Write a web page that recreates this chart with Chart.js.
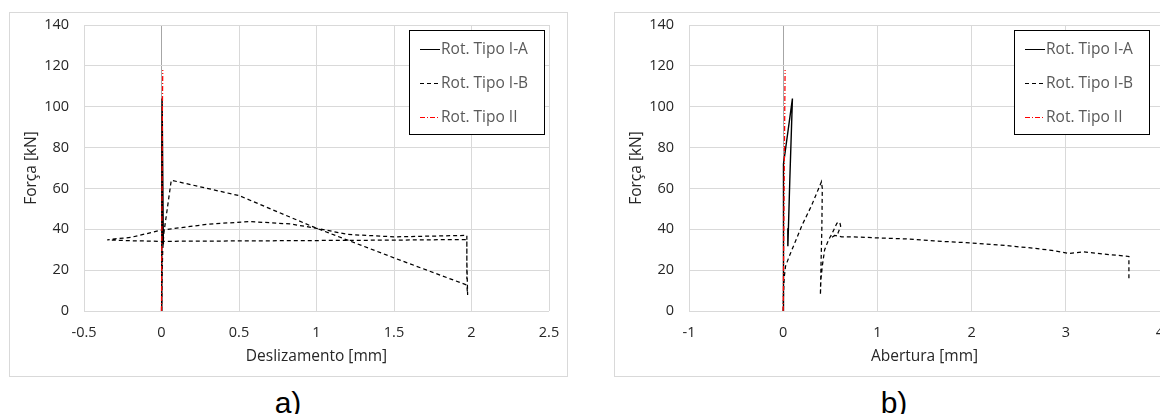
<!DOCTYPE html>
<html>
<head>
<meta charset="utf-8">
<script src="https://cdn.jsdelivr.net/npm/chart.js@4.4.1/dist/chart.umd.min.js"></script>
<style>
html, body { margin: 0; padding: 0; background: #fff; overflow: hidden; width: 1160px; height: 414px; }
.box { position: absolute; top: 12px; border: 1px solid #d9d9d9; background: #fff; }
#boxA { left: 9px; width: 557px; height: 363px; }
#boxB { left: 614px; width: 563px; height: 363px; }
canvas { display: block; }
.lbl { position: absolute; top: 388px; font: 30px "Liberation Sans", Arial, sans-serif; line-height: 30px; color: #000; transform: translateX(-50%); }
</style>
</head>
<body>
<div class="box" id="boxA"><canvas id="chartA" width="557" height="363"></canvas></div>
<div class="box" id="boxB"><canvas id="chartB" width="563" height="363"></canvas></div>
<div class="lbl" style="left:288px">a)</div>
<div class="lbl" style="left:894px">b)</div>
<script>
// ticks
var yTicks = [0, 20, 40, 60, 80, 100, 120, 140];
var xTicksA = [-0.5, 0, 0.5, 1, 1.5, 2, 2.5];
var xTicksB = [-1, 0, 1, 2, 3, 4];

var labels = ['Rot. Tipo I-A', 'Rot. Tipo I-B', 'Rot. Tipo II'];

// a) deslizamento [mm] x força [kN]
var iaSlipX = [0, 0.001, 0.002, 0.003, 0.004, 0.012, 0.01, 0.012];
var iaSlipY = [0, 40, 75, 80, 104, 33, 40, 35];
var ibSlipX = [0, 0.003, 0.008, 0.015, 0.063, 0.5, 1.0, 1.5, 1.97, 1.975, 1.97, 1.97, 1.5, 1.2, 1.0, 0.83, 0.57, 0.3, 0, -0.2, -0.3, -0.35, -0.2, 0, 0.5, 1.0, 1.5, 1.97, 1.97, 1.97];
var ibSlipY = [0, 15, 30, 38, 64, 56.5, 40.5, 26, 12.7, 7.8, 25, 37, 36.3, 37.5, 40.5, 42.6, 43.8, 42.5, 39.6, 36, 35.3, 34.8, 34.4, 34.1, 34.3, 34.5, 34.7, 35, 25, 15.5];
var iiSlipX = [0, 0.003, 0.006, 0.008];
var iiSlipY = [0, 50, 100, 118];

// b) abertura [mm] x força [kN]
var iaOpenX = [0, 0.002, 0.004, 0.027, 0.098, 0.07, 0.05, 0.048, 0.05];
var iaOpenY = [0, 40, 72, 80, 104, 64, 32, 40.5, 34];
var ibOpenX = [0, 0.003, 0.01, 0.025, 0.07, 0.2, 0.3, 0.406, 0.415, 0.41, 0.40, 0.395, 0.40, 0.415, 0.44, 0.48, 0.52, 0.57, 0.6, 0.61, 0.58, 0.53, 0.51, 0.55, 0.62, 0.8, 1.0, 1.3, 1.6, 2.0, 2.3, 2.6, 2.85, 3.03, 3.19, 3.4, 3.67, 3.67, 3.67];
var ibOpenY = [0, 8, 16, 22, 27.4, 42, 51.5, 63.3, 60, 40, 20, 7.8, 15, 22, 30, 34.7, 38, 43, 43.5, 41.5, 38, 36.5, 36, 37, 36.3, 36.2, 35.8, 35.3, 34.3, 33.3, 32.3, 31, 29.7, 28.2, 28.9, 27.9, 26.7, 21, 15.2];
var iiOpenX = [0, 0.01, 0.02];
var iiOpenY = [0, 60, 118];

function pts(xs, ys) {
    return xs.map(function(x, i) { return { x: x, y: ys[i] }; });
}

// legenda com moldura, desenhada à mão
var boxLegend = {
    id: 'boxLegend',
    afterDraw: function(chart, args, opts) {
        var ctx = chart.ctx;
        ctx.save();
        ctx.fillStyle = '#fff';
        ctx.fillRect(opts.x, opts.y, opts.w, opts.h);
        ctx.strokeStyle = '#000';
        ctx.lineWidth = 1;
        ctx.strokeRect(opts.x + 0.5, opts.y + 0.5, opts.w, opts.h);
        chart.data.datasets.forEach(function(ds, i) {
            var cy = Math.round(opts.y + opts.rows[i]) + 0.5;
            ctx.beginPath();
            ctx.setLineDash(ds.borderDash || []);
            ctx.strokeStyle = ds.borderColor;
            ctx.lineWidth = 1;
            ctx.moveTo(opts.x + 11, cy);
            ctx.lineTo(opts.x + 31, cy);
            ctx.stroke();
            ctx.setLineDash([]);
            ctx.fillStyle = '#595959';
            ctx.font = '15.5px "Open Sans"';
            ctx.textBaseline = 'middle';
            ctx.fillText(ds.label, opts.x + 32, cy);
        });
        ctx.restore();
    }
};

function makeChart(id, xMin, xMax, xTicks, xTitle, ia, ib, ii) {
    var tickFont = { family: 'Open Sans', size: 14.5 };
    var titleFont = { family: 'Open Sans', size: 15.5 };
    var config = {
        type: 'scatter',
        data: {
            datasets: [
                { label: labels[0], data: ia, showLine: true, borderColor: '#000', borderWidth: 1.4, pointRadius: 0, order: 1 },
                { label: labels[1], data: ib, showLine: true, borderColor: '#000', borderWidth: 1.25, borderDash: [4, 3], pointRadius: 0, order: 2 },
                { label: labels[2], data: ii, showLine: true, borderColor: '#ff0000', borderWidth: 1.25, borderDash: [5, 2, 1, 2], pointRadius: 0, order: 0 }
            ]
        },
        options: {
            responsive: false,
            animation: false,
            layout: { padding: { left: 0, right: 18, top: 12, bottom: 0 } },
            plugins: {
                legend: { display: false },
                tooltip: { enabled: false },
                boxLegend: { x: 399, y: 17, w: 135, h: 104, rows: [19, 53, 87] }
            },
            scales: {
                x: {
                    type: 'linear',
                    min: xMin,
                    max: xMax,
                    afterBuildTicks: function(s) { s.ticks = xTicks.map(function(v) { return { value: v }; }); },
                    afterFit: function(s) { s.height = 65; s.paddingLeft = 0; s.paddingRight = 0; },
                    ticks: { font: tickFont, color: '#262626', padding: 13.5, maxRotation: 0, autoSkip: false,
                             callback: function(v) { return String(v); } },
                    grid: { drawTicks: false, lineWidth: 1,
                            color: function(c) { return c.tick && c.tick.value === 0 ? '#a6a6a6' : '#d9d9d9'; } },
                    border: { display: false },
                    title: { display: true, text: xTitle, font: titleFont, color: '#262626', padding: { top: 0, bottom: 9.7 } }
                },
                y: {
                    min: 0,
                    max: 140,
                    afterBuildTicks: function(s) { s.ticks = yTicks.map(function(v) { return { value: v }; }); },
                    afterFit: function(s) { s.width = 74; s.paddingTop = 0; s.paddingBottom = 0; },
                    ticks: { font: tickFont, color: '#262626', padding: 15 },
                    grid: { drawTicks: false, lineWidth: 1, color: '#d9d9d9' },
                    border: { display: false },
                    title: { display: true, text: 'Força [kN]', font: titleFont, color: '#262626', padding: { top: 12, bottom: 0 } }
                }
            }
        },
        plugins: [boxLegend]
    };
    return new Chart(document.getElementById(id), config);
}

var graficoA = makeChart('chartA', -0.5, 2.5, xTicksA, 'Deslizamento [mm]',
    pts(iaSlipX, iaSlipY), pts(ibSlipX, ibSlipY), pts(iiSlipX, iiSlipY));
var graficoB = makeChart('chartB', -1, 4, xTicksB, 'Abertura [mm]',
    pts(iaOpenX, iaOpenY), pts(ibOpenX, ibOpenY), pts(iiOpenX, iiOpenY));
</script>
</body>
</html>
